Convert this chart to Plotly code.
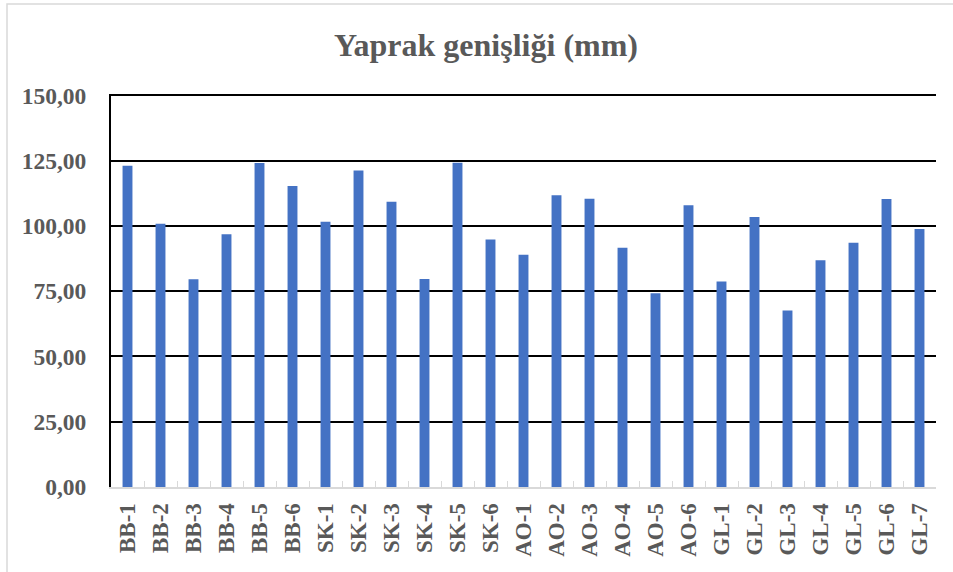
import plotly.graph_objects as go

genotypes = ["BB-1", "BB-2", "BB-3", "BB-4", "BB-5", "BB-6",
             "SK-1", "SK-2", "SK-3", "SK-4", "SK-5", "SK-6",
             "AO-1", "AO-2", "AO-3", "AO-4", "AO-5", "AO-6",
             "GL-1", "GL-2", "GL-3", "GL-4", "GL-5", "GL-6", "GL-7"]
leaf_width = [123.0, 100.8, 79.6, 96.8, 124.1, 115.3,
              101.6, 121.2, 109.2, 79.7, 124.2, 94.8,
              88.9, 111.7, 110.4, 91.6, 74.2, 107.9,
              78.7, 103.4, 67.6, 86.8, 93.5, 110.3, 98.8]
y_ticks = [0, 25, 50, 75, 100, 125, 150]

grey_txt = "#595959"
font_name = "Liberation Serif"

fig = go.Figure()
fig.add_trace(go.Bar(x=genotypes, y=leaf_width, marker_color="#4472C4",
                     marker_line_width=0))

fig.update_layout(
    width=953, height=572,
    margin=dict(l=111, r=17, t=94, b=85),
    paper_bgcolor="white", plot_bgcolor="white",
    bargap=0.7,
    separators=",.",
    showlegend=False,
    font=dict(family=font_name, color=grey_txt),
    title=dict(text="<b>Yaprak genişliği (mm)</b>", x=486 / 953, xref="container",
               xanchor="center", y=1 - 45 / 572, yanchor="middle",
               font=dict(family=font_name, size=32, color=grey_txt)),
    xaxis=dict(
        showline=True, linecolor="#D9D9D9", linewidth=2,
        ticks="inside", tickson="boundaries", ticklen=6, tickcolor="#D9D9D9",
        tickangle=-90, ticklabelstandoff=5,
        tickfont=dict(family=font_name, size=23, color=grey_txt, weight="bold"),
        showgrid=False,
    ),
    yaxis=dict(
        # a touch above 150 so the top gridline is drawn
        range=[0, 150.5], tickvals=y_ticks, tickformat=".2f",
        showline=True, linecolor="black", linewidth=2,
        showgrid=True, gridcolor="black", gridwidth=2,
        zeroline=False, ticklabelstandoff=18,
        tickfont=dict(family=font_name, size=23.5, color=grey_txt, weight="bold"),
    ),
)

# light chart frame: only its left and top edges fall inside the picture
fig.add_shape(type="rect", xref="paper", yref="paper",
              x0=(7 - 111) / 825, x1=(990 - 111) / 825,
              y0=(487 - 620) / 393, y1=(487 - 4) / 393,
              line=dict(color="#D9D9D9", width=1.5), layer="below")

# drop the browser's default 8px body margin so the chart fills the window
fig.write_html("out.html", config={"displayModeBar": False},
               post_script="document.body.style.margin='0';")
